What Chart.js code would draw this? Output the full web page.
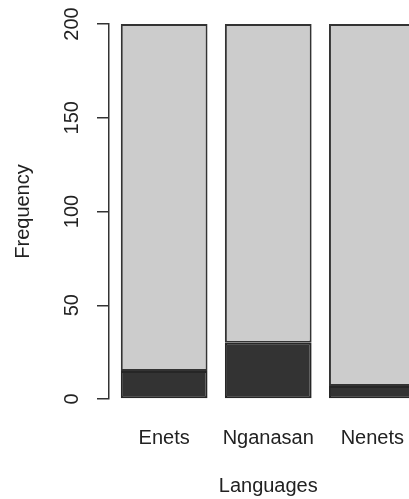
<!DOCTYPE html>
<html>
<head>
<meta charset="utf-8">
<script src="https://cdn.jsdelivr.net/npm/chart.js"></script>
<style>
  html, body { margin: 0; padding: 0; background: #fff; }
  body { width: 409px; height: 499px; overflow: hidden; }
</style>
</head>
<body>
<canvas id="myChart" width="440" height="499"></canvas>
<script>
var languages = ["Enets", "Nganasan", "Nenets"];
var darkCounts = [15, 30, 7];
var lightCounts = [185, 170, 193];
var yTicks = [0, 50, 100, 150, 200];

// R barplot layout: width 1, space 0.2 -> bar centers 0.7, 1.9, 3.1
var barPos = languages.map(function (_, i) { return 0.2 + i * 1.2 + 0.5; });

function toPoints(vals) {
  return vals.map(function (v, i) { return { x: barPos[i], y: v }; });
}

var axisColor = "#333";
var textColor = "#222";
var font20 = { family: "'Liberation Sans', Arial, sans-serif", size: 20 };

var ctx = document.getElementById("myChart").getContext("2d");
new Chart(ctx, {
  type: "bar",
  data: {
    datasets: [{
      data: toPoints(darkCounts),
      stack: "lang",
      backgroundColor: "#333333",
      borderColor: "#262626",
      borderWidth: 2,
      borderSkipped: false
    }, {
      data: toPoints(lightCounts),
      stack: "lang",
      backgroundColor: "#cccccc",
      borderColor: "#333333",
      borderWidth: 2,
      borderSkipped: false
    }]
  },
  options: {
    responsive: false,
    animation: false,
    categoryPercentage: 1,
    barPercentage: 1 / 1.2,
    layout: { padding: { top: 24, right: 12.5, bottom: 0, left: 0 } },
    plugins: {
      legend: { display: false },
      tooltip: { enabled: false }
    },
    scales: {
      x: {
        type: "linear",
        offset: false,
        min: 0.064,
        max: 3.736,
        grid: { display: false, drawTicks: false },
        border: { display: false },
        afterBuildTicks: function (axis) {
          axis.ticks = barPos.map(function (v) { return { value: v }; });
        },
        afterFit: function (axis) { axis.height = 100; },
        ticks: {
          autoSkip: false,
          maxRotation: 0,
          padding: 27,
          color: textColor,
          font: font20,
          callback: function (v, i) { return languages[i]; }
        },
        title: {
          display: true,
          text: "Languages",
          color: textColor,
          font: font20,
          padding: { top: 0, bottom: 1 }
        }
      },
      y: {
        type: "linear",
        min: 0,
        max: 200,
        stacked: true,
        afterBuildTicks: function (axis) {
          axis.ticks = yTicks.map(function (v) { return { value: v }; });
        },
        afterFit: function (axis) { axis.width = 109; },
        grid: {
          drawOnChartArea: false,
          drawTicks: true,
          tickLength: 12,
          color: axisColor,
          lineWidth: 1.5
        },
        border: { display: true, color: axisColor, width: 1.5 },
        ticks: {
          minRotation: 90,
          maxRotation: 90,
          crossAlign: "center",
          padding: 8,
          color: textColor,
          font: font20
        },
        title: {
          display: true,
          text: "Frequency",
          color: textColor,
          font: font20,
          padding: { top: 11, bottom: 0 }
        }
      }
    }
  }
});
</script>
</body>
</html>
